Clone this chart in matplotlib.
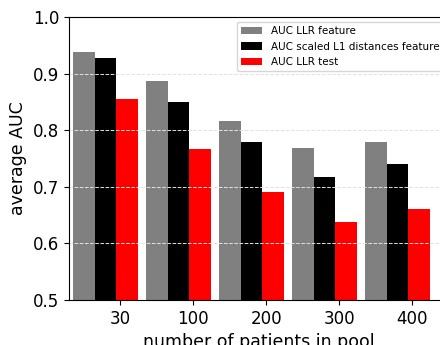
import numpy as np
import matplotlib
matplotlib.use('Agg')
import matplotlib.pyplot as plt

POOL_SIZES   = ['30', '100', '200', '300', '400']
AUC_LLR_FEAT = [0.938, 0.887, 0.817, 0.769, 0.780]
AUC_L1_FEAT  = [0.928, 0.850, 0.780, 0.718, 0.741]
AUC_LLR_TEST = [0.856, 0.767, 0.690, 0.637, 0.660]

W = 0.3

fig = plt.figure(figsize=(4.4, 3.45), dpi=100)
# axes runs past the right edge of the figure (the original is cropped there)
ax = fig.add_axes([69 / 440, 45 / 345, 379.6 / 440, 283 / 345])

x = np.arange(len(POOL_SIZES))
ax.bar(x,         AUC_LLR_FEAT, W, color='gray',  label='AUC LLR feature')
ax.bar(x + W,     AUC_L1_FEAT,  W, color='black', label='AUC scaled L1 distances feature')
ax.bar(x + 2 * W, AUC_LLR_TEST, W, color='red',   label='AUC LLR test')

ax.set_xlim(-0.2, 5.0)
ax.set_ylim(0.5, 1.0)
ax.set_yticks([0.5, 0.6, 0.7, 0.8, 0.9, 1.0])
ax.set_xticks(x + 0.5)
ax.set_xticklabels(POOL_SIZES)
ax.tick_params(labelsize=12)

# grid sits over the bars, spines over the grid
ax.set_axisbelow(False)
ax.yaxis.grid(True, linestyle='--', color='#e2e2e2', linewidth=0.7)
for s in ax.spines.values():
    s.set_zorder(3)

ax.set_xlabel('number of patients in pool', fontsize=12.5)
ax.set_ylabel('average AUC', fontsize=12.5)
ax.legend(loc='upper right', fontsize=7.5)

fig.savefig('out.png', dpi=100)
